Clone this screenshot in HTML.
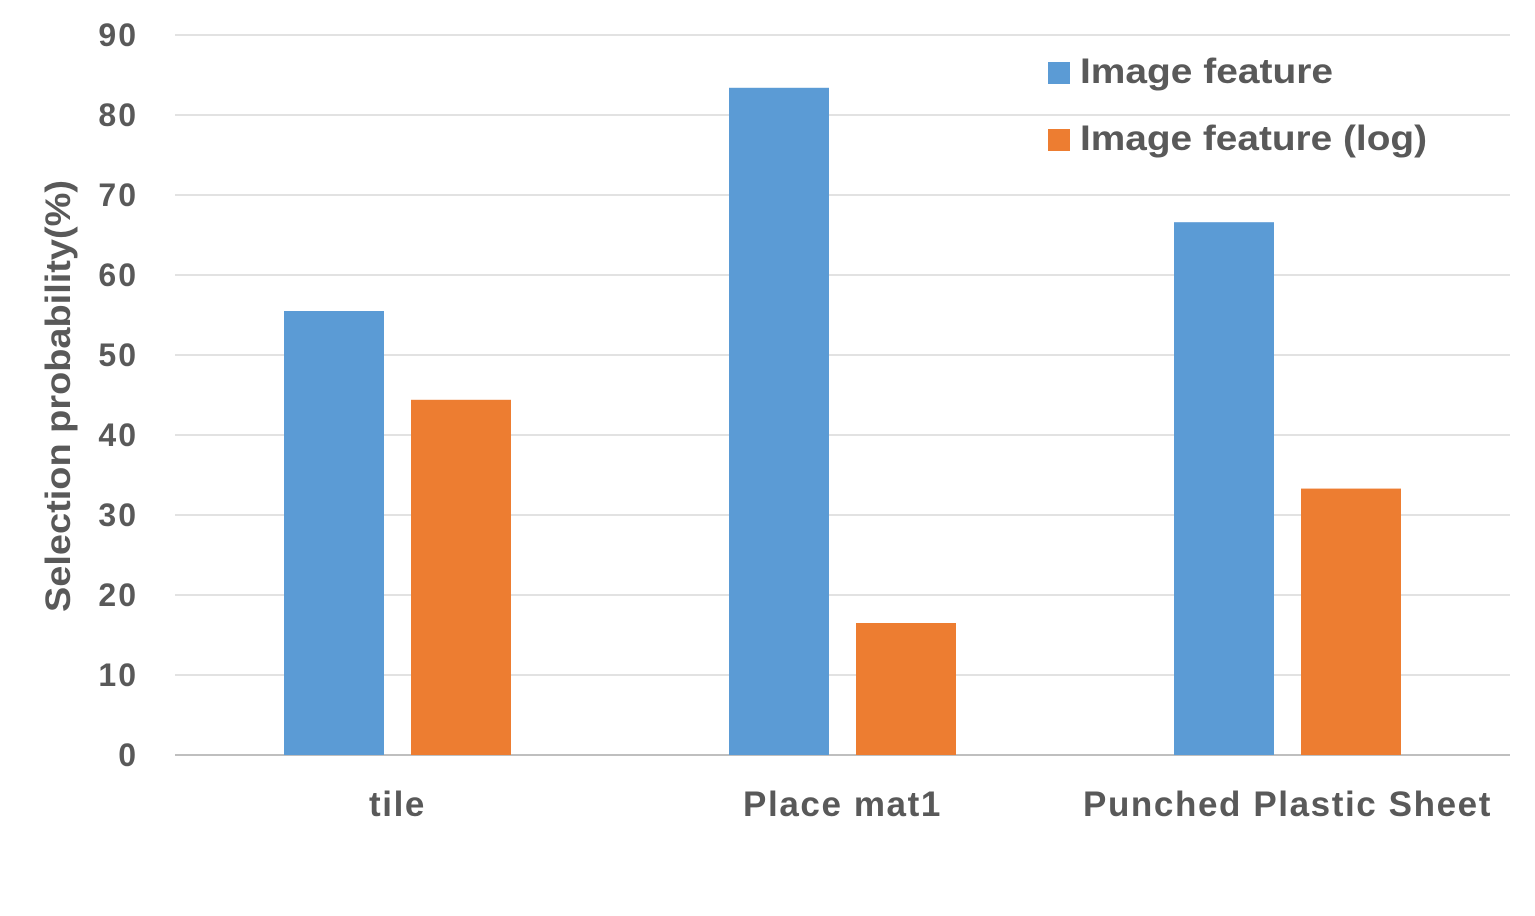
<!DOCTYPE html>
<html><head><meta charset="utf-8"><style>
html,body{margin:0;padding:0;background:#fff;}
svg{display:block;font-family:"Liberation Sans","Noto Sans CJK JP",sans-serif;font-weight:bold;}
</style></head><body>
<svg id="chart" width="1535" height="916" viewBox="0 0 1535 916" xmlns="http://www.w3.org/2000/svg">
<g id="grid"></g>
<g id="yticks"></g>
<g id="bars"></g>
<g id="xlabels"></g>
<text transform="translate(70,396) rotate(-90)" text-anchor="middle" font-size="35" fill="#595959" textLength="432" lengthAdjust="spacingAndGlyphs">Selection probability(%)</text>
<g>
<rect x="1048" y="62" width="22" height="22" fill="#5b9bd5"/>
<text x="1080" y="83" font-size="35" fill="#595959" textLength="253" lengthAdjust="spacingAndGlyphs">Image feature</text>
<rect x="1048" y="129" width="22" height="22" fill="#ed7d31"/>
<text x="1080" y="150" font-size="35" fill="#595959" textLength="347" lengthAdjust="spacingAndGlyphs">Image feature (log)</text>
</g>
</svg>
<script>
const categories = ["tile", "Place mat1", "Punched Plastic Sheet"];
const seriesImage = [55.5, 83.4, 66.6];
const seriesLog = [44.4, 16.5, 33.3];
const yTicks = [0,10,20,30,40,50,60,70,80,90];
const colors = ["#5b9bd5", "#ed7d31"];

const NS = "http://www.w3.org/2000/svg";
const x0 = 175, x1 = 1510, yBase = 755, yTop = 35, yMax = 90;
const yScale = v => yBase - (v / yMax) * (yBase - yTop);
const band = (x1 - x0) / categories.length;
const xCenter = i => x0 + band * (i + 0.5);
const barW = 100, gap = 27;

function mk(tag, attrs, parent){const e=document.createElementNS(NS,tag);for(const k in attrs)e.setAttribute(k,attrs[k]);parent.appendChild(e);return e;}
const grid=document.getElementById('grid'), yt=document.getElementById('yticks'), bars=document.getElementById('bars'), xl=document.getElementById('xlabels');

yTicks.forEach(t=>{
  const l=mk('line',{x1:x0,x2:x1,y1:yScale(t),y2:yScale(t),stroke:t===0?'#bfbfbf':'#d9d9d9','stroke-width':t===0?2:1.5},grid);
  
  
  const tx=mk('text',{x:138,y:yScale(t)+11,'text-anchor':'end','font-size':32,fill:'#595959','letter-spacing':2},yt);
  tx.textContent=t;
  
  
});

[seriesImage, seriesLog].forEach((s,si)=>{
  s.forEach((v,i)=>{
    const x = si===0 ? xCenter(i) - gap/2 - barW : xCenter(i) + gap/2;
    const r=mk('rect',{x:x,y:yScale(v),width:barW,height:yBase-yScale(v),fill:colors[si]},bars);
    
    
  });
});

categories.forEach((c,i)=>{
  const t=mk('text',{x:xCenter(i),y:816,'text-anchor':'middle','font-size':35,fill:'#595959','letter-spacing':1.6},xl);
  t.textContent=c;
  
  
});
</script>
</body></html>
